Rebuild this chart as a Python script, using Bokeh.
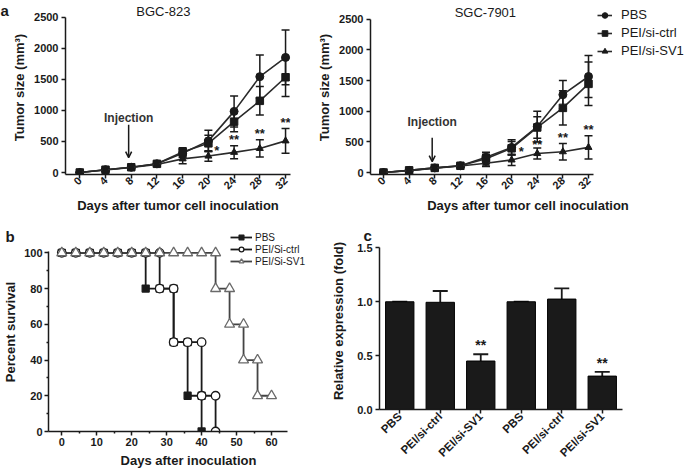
import math
from bokeh.plotting import figure
from bokeh.layouts import row, column
from bokeh.models import (ColumnDataSource, Whisker, TeeHead, Arrow, OpenHead, Label,
                          Legend, LegendItem, FixedTicker)
from bokeh.core.properties import value
from bokeh.embed import file_html
from bokeh.resources import INLINE

FONT = "Liberation Sans"
INK = "#1a1a1a"

# ---------------- data: panel a ----------------
days = [0, 4, 8, 12, 16, 20, 24, 28, 32]
bgc_pbs = [0, 45, 85, 140, 310, 510, 985, 1545, 1855]
bgc_pbs_err = [0, 15, 20, 35, 70, 170, 250, 350, 440]
bgc_ctrl = [0, 45, 85, 140, 330, 470, 820, 1155, 1535]
bgc_ctrl_err = [0, 15, 20, 35, 70, 130, 165, 230, 310]
bgc_sv1 = [0, 40, 80, 130, 220, 265, 325, 388, 510]
bgc_sv1_err = [0, 10, 20, 30, 80, 85, 105, 140, 200]
bgc_star_x = [21.3, 24, 28, 32]
bgc_star_y = [350, 540, 630, 806]
bgc_star_txt = ["*", "**", "**", "**"]

sgc_pbs = [0, 35, 75, 110, 250, 410, 750, 1270, 1567]
sgc_pbs_err = [0, 10, 15, 25, 80, 125, 250, 230, 344]
sgc_ctrl = [0, 35, 75, 110, 225, 395, 735, 1055, 1447]
sgc_ctrl_err = [0, 10, 15, 25, 75, 110, 175, 280, 355]
sgc_sv1 = [0, 30, 70, 105, 150, 205, 310, 339, 410]
sgc_sv1_err = [0, 8, 12, 20, 50, 92, 90, 135, 190]
sgc_star_x = [21.5, 24, 28, 32]
sgc_star_y = [344, 465, 573, 710]
sgc_star_txt = ["*", "**", "**", "**"]

series_a = ["PBS", "PEI/si-ctrl", "PEI/si-SV1"]
titles_a = ["BGC-823", "SGC-7901"]
injection_day = 7.6

# ---------------- data: panel b ----------------
pbs_days = [0, 4, 8, 12, 16, 20, 24, 24, 28, 32, 32, 36, 36, 40, 40]
pbs_surv = [100, 100, 100, 100, 100, 100, 100, 80, 80, 80, 50, 50, 20, 20, 0]
ctrl_days = [0, 4, 8, 12, 16, 20, 24, 28, 28, 32, 32, 36, 40, 40, 44, 44]
ctrl_surv = [100, 100, 100, 100, 100, 100, 100, 100, 80, 80, 50, 50, 50, 20, 20, 0]
sv1_days = [0, 4, 8, 12, 16, 20, 24, 28, 32, 36, 40, 44, 44, 48, 48, 52, 52, 56, 56, 60]
sv1_surv = [100, 100, 100, 100, 100, 100, 100, 100, 100, 100, 100, 100, 80, 80, 60, 60, 40, 40, 20, 20]
series_b = ["PBS", "PEI/Si-ctrl", "PEI/Si-SV1"]

# ---------------- data: panel c ----------------
cats_c = ["PBS", "PEI/si-ctrl", "PEI/si-SV1", "PBS", "PEI/si-ctrl", "PEI/si-SV1"]
expr_c = [1.0, 0.995, 0.45, 1.0, 1.025, 0.31]
expr_err = [0.0, 0.105, 0.063, 0.0, 0.10, 0.04]
star_c = ["", "", "**", "", "", "**"]
star_c_y = [0, 0, 0.597, 0, 0, 0.436]


def style_axis(ax, tick_size="11px", label_size="13px"):
    ax.axis_line_width = 1.5
    ax.axis_line_color = INK
    ax.major_tick_line_width = 1.5
    ax.major_tick_line_color = INK
    ax.major_tick_out = 4
    ax.major_tick_in = 0
    ax.minor_tick_line_color = None
    ax.major_label_text_font = FONT
    ax.major_label_text_font_style = "bold"
    ax.major_label_text_font_size = tick_size
    ax.major_label_text_color = INK
    ax.axis_label_text_font = FONT
    ax.axis_label_text_font_style = "bold"
    ax.axis_label_text_font_size = label_size
    ax.axis_label_text_color = INK


def base_fig(w, h, xr, yr, bl, br, bt, bb):
    p = figure(width=w, height=h, x_range=xr, y_range=yr, output_backend="svg",
               toolbar_location=None, min_border_left=bl, min_border_right=br,
               min_border_top=bt, min_border_bottom=bb)
    try:
        p.frame_align = False
    except Exception:
        pass
    p.outline_line_color = None
    p.xgrid.visible = False
    p.ygrid.visible = False
    return p


def letter(txt, x, y, align="left"):
    return Label(x=x, y=y, x_units="screen", y_units="screen", text=txt,
                 text_font=FONT, text_font_style="bold", text_font_size="15px",
                 text_baseline="top", text_align=align, text_color=INK)


def tumor_panel(w, xr, bl, br, yr, pbs, pbs_e, ctrl, ctrl_e, sv1, sv1_e, star_x, star_y, star_t,
                title, title_x, title_y, inj_text_y, inj_y0, inj_y1):
    p = base_fig(w, 215, xr, yr, bl, br, 0, 40)
    style_axis(p.xaxis[0])
    style_axis(p.yaxis[0])
    p.xaxis.ticker = FixedTicker(ticks=days)
    p.xaxis.major_label_orientation = math.pi / 4
    p.xaxis.major_label_standoff = 0
    p.xaxis.axis_label_standoff = 2
    p.xaxis.bounds = (xr[0], 32.78)
    p.xaxis.axis_label = "Days after tumor cell inoculation"
    p.yaxis.ticker = FixedTicker(ticks=[0, 500, 1000, 1500, 2000, 2500])
    p.yaxis.bounds = (yr[0], 2500)
    p.yaxis.axis_label = "Tumor size (mm³)"
    p.yaxis.major_label_standoff = 3
    p.yaxis.axis_label_standoff = 4

    rends = []
    for vals, errs, marker, size in [(pbs, pbs_e, "circle", 8), (ctrl, ctrl_e, "square", 7.5),
                                     (sv1, sv1_e, "triangle", 7)]:
        src = ColumnDataSource(dict(x=days, y=vals,
                                    lo=[v - e for v, e in zip(vals, errs)],
                                    hi=[v + e for v, e in zip(vals, errs)]))
        ln = p.line("x", "y", source=src, line_color="#2a2a2a", line_width=1.6)
        sc = p.scatter("x", "y", source=src, marker=marker, size=size, fill_color=INK,
                       line_color=INK)
        wh = Whisker(source=src, base="x", lower="lo", upper="hi", dimension="height",
                     line_color=INK, line_width=1.5,
                     upper_head=TeeHead(size=8, line_width=1.5, line_color=INK),
                     lower_head=TeeHead(size=8, line_width=1.5, line_color=INK))
        p.add_layout(wh)
        rends.append((ln, sc))

    p.text(x=star_x, y=star_y, text=star_t, text_align="center", text_baseline="middle",
           text_font=value(FONT), text_font_style="bold", text_font_size="13px", text_color=INK)
    p.text(x=[title_x], y=[title_y], text=[title], text_align="center", text_baseline="middle",
           text_font=value(FONT), text_font_size="13px", text_color=INK)
    p.text(x=[injection_day], y=[inj_text_y], text=["Injection"], text_align="center",
           text_baseline="middle", text_font=value(FONT), text_font_style="bold",
           text_font_size="12px", text_color="#333333")
    p.add_layout(Arrow(x_start=injection_day, y_start=inj_y0, x_end=injection_day, y_end=inj_y1,
                       line_color=INK, line_width=1.5,
                       end=OpenHead(size=6, line_width=1.5, line_color=INK)))
    return p, rends


# ---- panel a left ----
pA1, _ = tumor_panel(312, (-2.22, 32.77), 65, 22, (-32, 2772),
                     bgc_pbs, bgc_pbs_err, bgc_ctrl, bgc_ctrl_err, bgc_sv1, bgc_sv1_err,
                     bgc_star_x, bgc_star_y, bgc_star_txt,
                     titles_a[0], 13.0, 2596, 881, 769, 240)
pA1.add_layout(letter("a", -1, 173), "left")

# ---- panel a right ----
pA2, rA2 = tumor_panel(373, (-2.03, 47.14), 58, 0, (-32.5, 2808),
                       sgc_pbs, sgc_pbs_err, sgc_ctrl, sgc_ctrl_err, sgc_sv1, sgc_sv1_err,
                       sgc_star_x, sgc_star_y, sgc_star_txt,
                       titles_a[1], 15.9, 2614, 828, 568, 179)
legA = Legend(items=[LegendItem(label=series_a[i], renderers=list(rA2[i])) for i in range(3)],
              location=(227, 116), padding=0, margin=0, spacing=3, glyph_height=14,
              glyph_width=15, label_height=14, label_standoff=9,
              label_text_font=FONT, label_text_font_size="13px", label_text_color=INK,
              border_line_color=None, background_fill_alpha=0)
pA2.add_layout(legA)

# ---- panel b ----
pB = base_fig(328, 255, (-3.8, 76.3), (0, 111.4), 46, 0, 17, 38)
style_axis(pB.xaxis[0])
style_axis(pB.yaxis[0])
pB.xaxis.ticker = FixedTicker(ticks=[0, 10, 20, 30, 40, 50, 60], minor_ticks=[5, 15, 25, 35, 45, 55])
pB.yaxis.ticker = FixedTicker(ticks=[0, 20, 40, 60, 80, 100], minor_ticks=[10, 30, 50, 70, 90])
for ax in (pB.xaxis[0], pB.yaxis[0]):
    ax.minor_tick_line_color = INK
    ax.minor_tick_line_width = 1.5
    ax.minor_tick_out = 2
    ax.minor_tick_in = 0
pB.xaxis.bounds = (-3.8, 64.7)
pB.yaxis.bounds = (0, 101)
pB.xaxis.axis_label = "Days after inoculation"
pB.yaxis.axis_label = "Percent survival"
pB.xaxis.major_label_standoff = 2
pB.xaxis.axis_label_standoff = 4
pB.yaxis.major_label_standoff = 2
pB.yaxis.axis_label_standoff = 3

rB = []
for dx, sy, lc in [(pbs_days, pbs_surv, INK), (ctrl_days, ctrl_surv, INK), (sv1_days, sv1_surv, "#444444")]:
    rB.append([pB.line(dx, sy, line_color=lc, line_width=1.8)])
mk = [("square", 7, INK, INK), ("circle", 8.5, "white", INK), ("triangle", 10, "white", "#6a6a6a")]
for i, (dx, sy) in enumerate([(pbs_days, pbs_surv), (ctrl_days, ctrl_surv), (sv1_days, sv1_surv)]):
    m, s, fc, lc = mk[i]
    rB[i].append(pB.scatter(dx, sy, marker=m, size=s, fill_color=fc, line_color=lc, line_width=1.3))
legB = Legend(items=[LegendItem(label=series_b[i], renderers=rB[i]) for i in range(3)],
              location=(182, 164), padding=0, margin=0, spacing=0, glyph_height=12,
              glyph_width=22, label_height=12, label_standoff=3,
              label_text_font=FONT, label_text_font_size="10px", label_text_color=INK,
              border_line_color=None, background_fill_alpha=0)
pB.add_layout(legB)
pB.add_layout(letter("b", -43, 5), "above")

# ---- panel c ----
pos_c = list(range(len(cats_c)))
pC = base_fig(357, 255, (-0.5, 5.5), (0, 1.643), 49, 63, 17, 61)
style_axis(pC.xaxis[0])
style_axis(pC.yaxis[0])
pC.xaxis.ticker = FixedTicker(ticks=pos_c)
pC.xaxis.major_label_overrides = {i: c for i, c in zip(pos_c, cats_c)}
pC.xaxis.major_label_orientation = math.pi / 4
pC.xaxis.major_label_standoff = 1
pC.xaxis.major_label_text_font_size = "11.5px"
pC.yaxis.ticker = FixedTicker(ticks=[0, 0.5, 1.0, 1.5])
pC.yaxis.major_label_overrides = {0: "0.0", 0.5: "0.5", 1.0: "1.0", 1.5: "1.5"}
pC.yaxis.bounds = (0, 1.5)
pC.yaxis.axis_label = "Relative expression (fold)"
pC.yaxis.axis_label_standoff = 8
pC.yaxis.major_label_standoff = 3
srcC = ColumnDataSource(dict(x=pos_c, top=expr_c,
                             hi=[v + e for v, e in zip(expr_c, expr_err)],
                             star=star_c, sy=star_c_y))
pC.vbar(x="x", top="top", width=0.7, source=srcC, fill_color=INK, line_color="#000000", line_width=1)
pC.add_layout(Whisker(source=srcC, base="x", lower="top", upper="hi", dimension="height",
                      line_color=INK, line_width=1.8,
                      upper_head=TeeHead(size=15, line_width=1.8, line_color=INK), lower_head=None))
pC.text(x="x", y="sy", text="star", source=srcC, text_align="center", text_baseline="middle",
        text_font=value(FONT), text_font_style="bold", text_font_size="14px", text_color=INK)
pC.add_layout(letter("c", -16, 6), "above")

layout = column(row(pA1, pA2), row(pB, pC))
open("out.html", "w").write(file_html(layout, INLINE))
